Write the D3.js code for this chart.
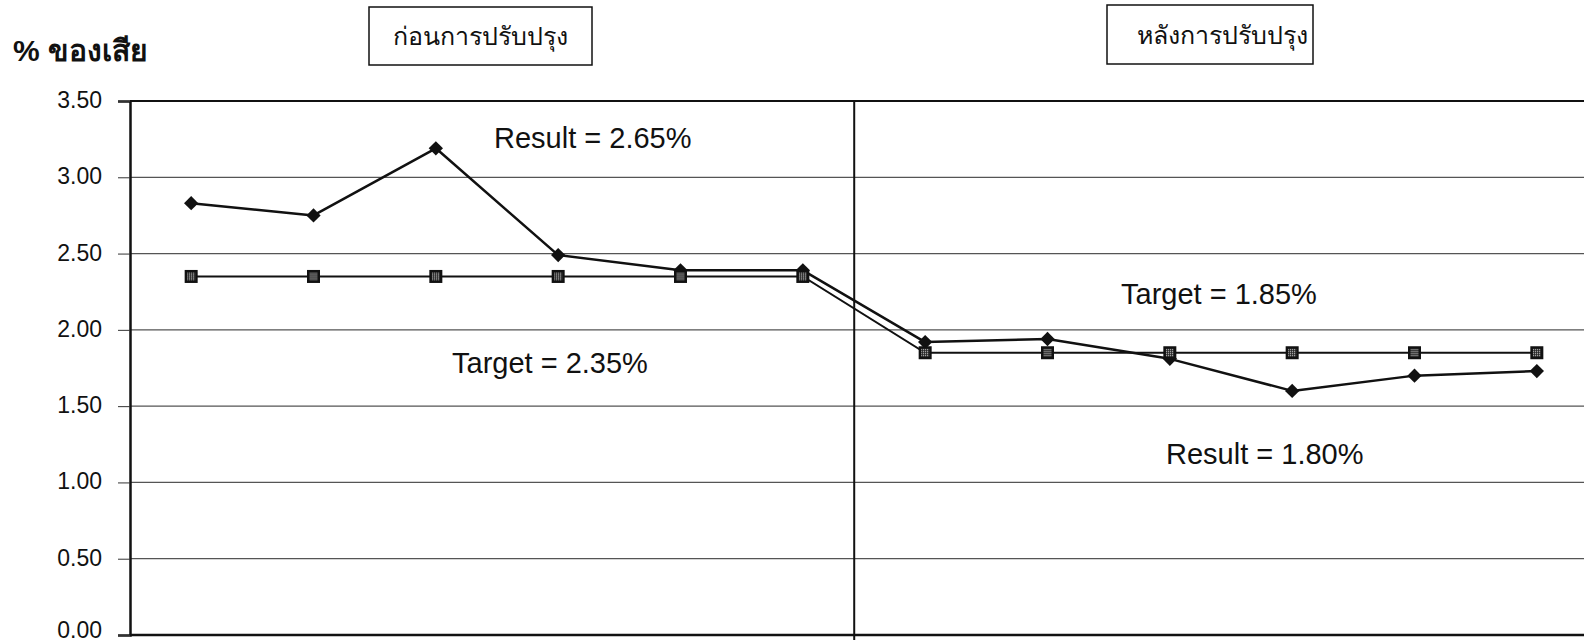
<!DOCTYPE html>
<html>
<head>
<meta charset="utf-8">
<script src="https://cdn.jsdelivr.net/npm/d3@7"></script>
<style>
  html, body { margin: 0; padding: 0; background: #fff; }
  svg { display: block; }
  text { font-family: "Liberation Sans", Arial, "Noto Sans", sans-serif; fill: #111; }
</style>
</head>
<body>
<svg id="chart" width="1584" height="644"></svg>
<script>
// Monthly points: 6 before the improvement, 6 after
const periods = ["1", "2", "3", "4", "5", "6", "7", "8", "9", "10", "11", "12"];
const resultValues = [2.83, 2.75, 3.19, 2.49, 2.39, 2.39, 1.92, 1.94, 1.81, 1.60, 1.70, 1.73];
const targetValues = [2.35, 2.35, 2.35, 2.35, 2.35, 2.35, 1.85, 1.85, 1.85, 1.85, 1.85, 1.85];
const yTicks = [0, 0.5, 1, 1.5, 2, 2.5, 3, 3.5];
const yTickLabels = ["0.00", "0.50", "1.00", "1.50", "2.00", "2.50", "3.00", "3.50"];
const phaseLabels = ["ก่อนการปรับปรุง", "หลังการปรับปรุง"];
const yTitle = "% ของเสีย";
const notes = [
  { text: "Result = 2.65%", x: 494, y: 148 },
  { text: "Target = 2.35%", x: 452, y: 373 },
  { text: "Target = 1.85%", x: 1121, y: 304 },
  { text: "Result = 1.80%", x: 1166, y: 464 }
];

const svg = d3.select("#chart");
const plotLeft = 130, plotTop = 101, plotBottom = 635, plotRight = 1598;

const x = d3.scaleLinear().domain([-0.5, periods.length - 0.5]).range([plotLeft, plotRight]);
const y = d3.scaleLinear().domain([0, 3.5]).range([plotBottom, plotTop]);

// Gridlines
svg.append("g").selectAll("line").data(yTicks.filter(v => v > 0 && v < 3.5)).join("line")
  .attr("x1", plotLeft).attr("x2", plotRight)
  .attr("y1", d => y(d)).attr("y2", d => y(d))
  .attr("stroke", "#555").attr("stroke-width", 1.2);

// Top border
svg.append("line").attr("x1", plotLeft).attr("x2", plotRight)
  .attr("y1", y(3.5)).attr("y2", y(3.5))
  .attr("stroke", "#111").attr("stroke-width", 2);

// Y axis with outward ticks
const yAxis = d3.axisLeft(y).tickValues(yTicks).tickSize(12).tickFormat((d, i) => yTickLabels[i]);
const gy = svg.append("g").attr("transform", `translate(${plotLeft},0)`).call(yAxis);
gy.select(".domain").attr("stroke", "#111").attr("stroke-width", 2.5);
gy.selectAll(".tick line").attr("stroke", "#333").attr("stroke-width", 1);
gy.selectAll(".tick text").attr("x", -28).attr("dy", d => d === 0 ? "0.1em" : "0.28em").attr("font-size", 23)
  .attr("font-family", "Liberation Sans, Arial, sans-serif").attr("fill", "#222");

// Bottom axis
svg.append("line").attr("x1", plotLeft).attr("x2", plotRight)
  .attr("y1", y(0)).attr("y2", y(0))
  .attr("stroke", "#111").attr("stroke-width", 2.5);

// Phase divider
const divX = x(5.42);
svg.append("line").attr("x1", divX).attr("x2", divX)
  .attr("y1", y(3.5)).attr("y2", y(0) + 5)
  .attr("stroke", "#111").attr("stroke-width", 2);

// Y title
svg.append("text").attr("x", 13).attr("y", 61)
  .attr("font-size", 30).attr("font-weight", "bold").text(yTitle);

// Phase boxes
const boxes = [
  { x: 369, y: 7, w: 223, h: 58 },
  { x: 1107, y: 5, w: 206, h: 59 }
];
boxes.forEach((b, i) => {
  svg.append("rect").attr("x", b.x).attr("y", b.y).attr("width", b.w).attr("height", b.h)
    .attr("fill", "#fff").attr("stroke", "#111").attr("stroke-width", 1.5);
  svg.append("text").attr("x", b.x + b.w / 2 + (i === 1 ? 12 : 0)).attr("y", b.y + b.h / 2 + 9)
    .attr("text-anchor", "middle").attr("font-size", 25).text(phaseLabels[i]);
});

// Marker pattern for target squares
const defs = svg.append("defs");
const pat = defs.append("pattern").attr("id", "dots").attr("width", 2).attr("height", 2)
  .attr("patternUnits", "userSpaceOnUse");
pat.append("rect").attr("width", 2).attr("height", 2).attr("fill", "#222");
pat.append("rect").attr("width", 1).attr("height", 1).attr("fill", "#eee");

const line = d3.line().x((d, i) => x(i)).y(d => y(d));

// Result series
svg.append("path").datum(resultValues).attr("d", line)
  .attr("fill", "none").attr("stroke", "#111").attr("stroke-width", 2.5).attr("stroke-linejoin", "round");
svg.append("g").selectAll("path").data(resultValues).join("path")
  .attr("transform", (d, i) => `translate(${x(i)},${y(d)})`)
  .attr("d", d3.symbol(d3.symbolDiamond2, 130)())
  .attr("fill", "#111");

// Target series
svg.append("path").datum(targetValues).attr("d", line)
  .attr("fill", "none").attr("stroke", "#111").attr("stroke-width", 2);
const tg = svg.append("g").selectAll("g").data(targetValues).join("g")
  .attr("transform", (d, i) => `translate(${x(i)},${y(d)})`);
tg.append("rect").attr("x", -6.5).attr("y", -6.5).attr("width", 13).attr("height", 13).attr("fill", "#111");
tg.append("rect").attr("x", -4).attr("y", -4).attr("width", 8).attr("height", 8).attr("fill", "url(#dots)");

// Annotations
svg.append("g").selectAll("text").data(notes).join("text")
  .attr("x", d => d.x).attr("y", d => d.y).attr("font-size", 29).attr("fill", "#222")
  .text(d => d.text);
</script>
</body>
</html>
